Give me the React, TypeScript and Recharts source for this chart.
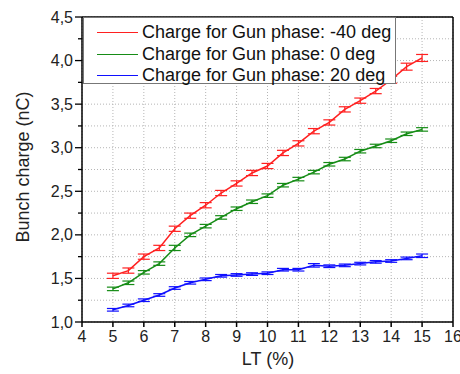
import {
  LineChart, Line, XAxis, YAxis, CartesianGrid, ErrorBar, ReferenceLine,
} from "recharts";

const FONT = '"Liberation Sans", Arial, sans-serif';

const lt = [5, 5.5, 6, 6.5, 7, 7.5, 8, 8.5, 9, 9.5, 10, 10.5, 11, 11.5, 12, 12.5, 13, 13.5, 14, 14.5, 15];

const chargeM40 = [1.53, 1.59, 1.75, 1.85, 2.07, 2.22, 2.34, 2.48, 2.59, 2.71, 2.79, 2.94, 3.05, 3.19, 3.29, 3.44, 3.54, 3.65, 3.78, 3.93, 4.03];
const errM40 = [0.03, 0.03, 0.03, 0.03, 0.03, 0.03, 0.03, 0.03, 0.03, 0.03, 0.03, 0.03, 0.03, 0.03, 0.03, 0.03, 0.03, 0.03, 0.04, 0.04, 0.04];

const charge0 = [1.38, 1.45, 1.57, 1.67, 1.85, 2.0, 2.1, 2.2, 2.3, 2.38, 2.45, 2.57, 2.64, 2.72, 2.81, 2.87, 2.96, 3.02, 3.08, 3.16, 3.21];
const err0 = [0.02, 0.02, 0.02, 0.02, 0.03, 0.02, 0.02, 0.02, 0.02, 0.02, 0.02, 0.02, 0.02, 0.02, 0.02, 0.02, 0.02, 0.02, 0.02, 0.02, 0.02];

const charge20 = [1.14, 1.19, 1.25, 1.31, 1.39, 1.45, 1.49, 1.53, 1.54, 1.55, 1.56, 1.6, 1.6, 1.65, 1.64, 1.65, 1.67, 1.69, 1.7, 1.73, 1.76];
const err20 = [0.015, 0.015, 0.015, 0.015, 0.015, 0.015, 0.015, 0.015, 0.015, 0.015, 0.015, 0.015, 0.015, 0.02, 0.015, 0.015, 0.015, 0.015, 0.015, 0.015, 0.02];

const xTicks = [4, 5, 6, 7, 8, 9, 10, 11, 12, 13, 14, 15, 16];
const yTicks = [1, 1.25, 1.5, 1.75, 2, 2.25, 2.5, 2.75, 3, 3.25, 3.5, 3.75, 4, 4.25, 4.5];

const series = [
  { key: "m40", err: "m40Err", color: "#ff2020", name: "Charge for Gun phase: -40 deg" },
  { key: "z0", err: "z0Err", color: "#168c16", name: "Charge for Gun phase: 0 deg" },
  { key: "p20", err: "p20Err", color: "#1010ff", name: "Charge for Gun phase: 20 deg" },
];

const data = lt.map((x, i) => ({
  lt: x,
  m40: chargeM40[i], m40Err: errM40[i],
  z0: charge0[i], z0Err: err0[i],
  p20: charge20[i], p20Err: err20[i],
}));

function YTick(props: any) {
  const { x, y, payload } = props;
  const v = payload.value as number;
  const major = Math.abs(v * 2 - Math.round(v * 2)) < 1e-6;
  return (
    <g>
      <line x1={x - (major ? 7 : 4)} x2={x} y1={y} y2={y} stroke="#000" strokeWidth={1.3} />
      {major && (
        <text x={x - 9} y={y} textAnchor="end" dominantBaseline="central" fontSize={16} fill="#222" fontFamily={FONT}>
          {v.toFixed(1).replace(".", ",")}
        </text>
      )}
    </g>
  );
}

export default function App() {
  return (
    <div style={{ position: "fixed", left: 0, top: 0, width: 460, height: 374, background: "#fff" }}>
      <LineChart width={460} height={374} data={data} margin={{ top: 17, right: 7, bottom: 0, left: 0 }}>
        <CartesianGrid stroke="#b5b5b5" strokeDasharray="1 2" />
        <XAxis
          dataKey="lt" type="number" domain={[4, 16]} ticks={xTicks} interval={0}
          height={52} tickSize={5} tickMargin={4}
          stroke="#000" strokeWidth={1.5}
          tick={{ fontSize: 16, fill: "#222", fontFamily: FONT }}
          label={{
            content: () => (
              <text x={268} y={359} textAnchor="middle" dominantBaseline="central" fontSize={18} fill="#222" fontFamily={FONT}>LT (%)</text>
            ),
          }}
        />
        <YAxis
          type="number" domain={[1, 4.5]} ticks={yTicks} interval={0} width={82}
          tickSize={0} tickMargin={0} tickLine={false}
          stroke="#000" strokeWidth={1.5}
          tick={<YTick />}
          label={{
            content: () => (
              <text x={23} y={167} transform="rotate(-90 23 167)" textAnchor="middle" dominantBaseline="central" fontSize={18} fill="#222" fontFamily={FONT}>
                Bunch charge (nC)
              </text>
            ),
          }}
        />
        <ReferenceLine y={4.5} stroke="#000" strokeWidth={1.5} />
        <ReferenceLine x={16} stroke="#000" strokeWidth={1.5} />
        {series.map((s) => (
          <Line key={s.key} dataKey={s.key} stroke={s.color} strokeWidth={1.5} dot={false} isAnimationActive={false}>
            <ErrorBar dataKey={s.err} width={6} stroke={s.color} strokeWidth={1.2} direction="y" />
          </Line>
        ))}
      </LineChart>
      <div
        style={{
          position: "absolute", left: 83, top: 17, width: 313, height: 67, boxSizing: "border-box",
          background: "#fff", border: "1px solid #777", fontFamily: FONT, fontSize: 18, color: "#111",
          paddingTop: 4,
        }}
      >
        {series.map((s) => (
          <div key={s.key} style={{ display: "flex", alignItems: "center", height: 21.5 }}>
            <div style={{ marginLeft: 13, width: 41, height: 0, borderTop: `1.5px solid ${s.color}` }} />
            <span style={{ marginLeft: 4, whiteSpace: "nowrap", lineHeight: "21px" }}>{s.name}</span>
          </div>
        ))}
      </div>
    </div>
  );
}
